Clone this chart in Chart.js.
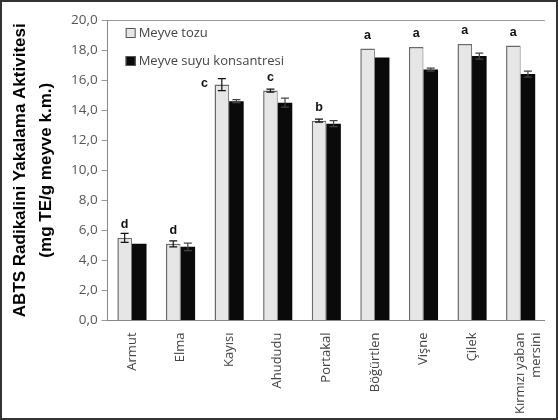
<!DOCTYPE html>
<html>
<head>
<meta charset="utf-8">
<script src="https://cdn.jsdelivr.net/npm/chart.js@4"></script>
<style>
  html, body { margin: 0; padding: 0; background: #fff; }
  .frame { width: 558px; height: 420px; box-sizing: border-box; border: 2px solid #333; position: relative; }
</style>
</head>
<body>
<div class="frame">
  <canvas id="abtsChart" width="554" height="416"></canvas>
</div>
<script>
const categories = ["Armut", "Elma", "Kayısı", "Ahududu", "Portakal", "Böğürtlen", "Vişne", "Çilek", ["Kırmızı yaban", "mersini"]];
const tozuValues = [5.5, 5.1, 15.7, 15.3, 13.3, 18.1, 18.2, 18.4, 18.3];
const tozuErrors = [0.3, 0.2, 0.4, 0.1, 0.1, 0, 0, 0, 0];
const suyuValues = [5.1, 4.9, 14.6, 14.5, 13.1, 17.5, 16.7, 17.6, 16.4];
const suyuErrors = [0, 0.25, 0.1, 0.3, 0.2, 0, 0.1, 0.2, 0.2];
const letters = ["d", "d", "c", "c", "b", "a", "a", "a", "a"];
const seriesNames = ["Meyve tozu", "Meyve suyu konsantresi"];

// error bars + significance letters + legend
const extras = {
  id: "extras",
  afterDatasetsDraw(chart, args, opts) {
    const ctx = chart.ctx;
    const y = chart.scales.y;
    const errs = [tozuErrors, suyuErrors];
    ctx.save();
    chart.data.datasets.forEach((ds, di) => {
      const meta = chart.getDatasetMeta(di);
      meta.data.forEach((bar, i) => {
        const e = errs[di][i];
        if (!e) return;
        const v = ds.data[i];
        const top = y.getPixelForValue(v + e);
        const bot = y.getPixelForValue(v - e);
        ctx.strokeStyle = di === 0 ? "#111" : "#444";
        ctx.lineWidth = 1.2;
        ctx.beginPath();
        ctx.moveTo(bar.x, top); ctx.lineTo(bar.x, bot);
        ctx.moveTo(bar.x - 4, top); ctx.lineTo(bar.x + 4, top);
        ctx.moveTo(bar.x - 4, bot); ctx.lineTo(bar.x + 4, bot);
        ctx.stroke();
      });
    });
    const meta0 = chart.getDatasetMeta(0);
    ctx.fillStyle = "#111";
    ctx.font = "bold 12.5px 'Liberation Sans', Arial, sans-serif";
    ctx.textAlign = "center";
    ctx.textBaseline = "middle";
    meta0.data.forEach((bar, i) => {
      const top = y.getPixelForValue(tozuValues[i]);
      if (opts.sideLetters.includes(i)) {
        ctx.fillText(letters[i], bar.x - bar.width / 2 - 10, top - 1);
      } else {
        ctx.fillText(letters[i], bar.x, top - 13);
      }
    });
    // legend
    const lx = chart.chartArea.left + 18;
    const ly = chart.chartArea.top + 13;
    ctx.font = "13px 'Open Sans', sans-serif";
    ctx.textAlign = "left";
    ctx.textBaseline = "middle";
    const fills = ["#e6e6e6", "#0a0a0a"];
    seriesNames.forEach((name, k) => {
      const yy = ly + k * 28;
      ctx.fillStyle = fills[k];
      ctx.fillRect(lx, yy - 5, 10, 10);
      ctx.strokeStyle = "#555";
      ctx.lineWidth = 1;
      ctx.strokeRect(lx + 0.5, yy - 4.5, 9, 9);
      ctx.fillStyle = "#444";
      ctx.fillText(name, lx + 13, yy);
    });
    ctx.restore();
  }
};

new Chart(document.getElementById("abtsChart"), {
  type: "bar",
  data: {
    labels: categories,
    datasets: [
      {
        label: seriesNames[0],
        data: tozuValues,
        backgroundColor: "#e6e6e6",
        borderColor: "#6a6a6a",
        borderWidth: { left: 1.5, top: 1.5, right: 1, bottom: 0 },
        borderSkipped: "bottom",
        categoryPercentage: 0.6,
        barPercentage: 1.0,
      },
      {
        label: seriesNames[1],
        data: suyuValues,
        backgroundColor: "#0a0a0a",
        borderWidth: 0,
        categoryPercentage: 0.6,
        barPercentage: 1.0,
      },
    ],
  },
  options: {
    responsive: false,
    animation: false,
    layout: { padding: { left: 6, right: 3, top: 18, bottom: 0 } },
    plugins: {
      legend: { display: false },
      tooltip: { enabled: false },
      extras: { sideLetters: [2] },
    },
    scales: {
      x: {
        grid: { display: false },
        border: { color: "#888", width: 1 },
        ticks: {
          minRotation: 90,
          maxRotation: 90,
          color: "#444",
          font: { family: "'Open Sans', sans-serif", size: 13 },
          padding: 4,
        },
      },
      y: {
        min: 0,
        max: 20,
        border: { color: "#888", width: 1 },
        grid: {
          color: (c) => (c.tick && c.tick.value === 20 ? "#999" : "rgba(0,0,0,0)"),
          tickColor: "#999",
          tickLength: 6,
        },
        ticks: {
          stepSize: 2,
          color: "#555",
          font: { family: "'Open Sans', sans-serif", size: 13.5 },
          callback: (v) => v.toFixed(1).replace(".", ","),
          padding: 4,
        },
        title: {
          display: true,
          text: ["ABTS Radikalini Yakalama Aktivitesi", "(mg TE/g meyve k.m.)"],
          color: "#000",
          font: { family: "'Liberation Sans', Arial, sans-serif", size: 17, weight: "bold", lineHeight: 1.5 },
          padding: { top: 0, bottom: 8 },
        },
      },
    },
  },
  plugins: [extras],
});
</script>
</body>
</html>
